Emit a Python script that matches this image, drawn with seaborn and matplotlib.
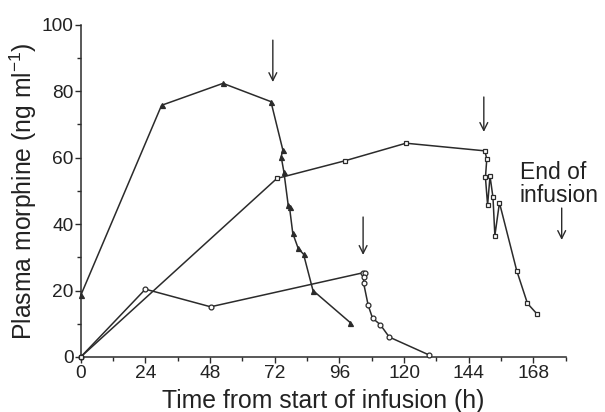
import matplotlib
matplotlib.use("Agg")
import matplotlib.pyplot as plt
import seaborn as sns
import pandas as pd
from matplotlib.ticker import MultipleLocator

# Plasma morphine concentrations (ng/ml) against time from start of infusion (h)
tri_time = [0, 30, 52.8, 70.6, 75.0, 74.4, 75.4, 77.0, 77.5, 78.7, 80.7, 82.7, 86.2, 100.1]
tri_conc = [18.5, 75.7, 82.3, 76.8, 62.3, 60.2, 55.7, 45.7, 45.0, 37.2, 32.7, 30.9, 20.0, 10.3]

circ_time = [0, 24, 48.2, 104.6, 105.6, 105.0, 105.0, 106.7, 108.3, 111.2, 114.5, 129.3]
circ_conc = [0, 20.4, 15.1, 25.3, 25.3, 24.0, 22.2, 15.5, 11.7, 9.7, 6.0, 0.6]

sq_time = [0, 72.8, 98.0, 120.7, 150.0, 150.7, 150.2, 151.0, 151.9, 153.0, 153.7, 155.4, 161.8, 165.8, 169.5]
sq_conc = [0, 53.7, 59.0, 64.3, 62.0, 59.5, 54.0, 45.7, 54.4, 48.0, 36.5, 46.4, 26.0, 16.1, 12.8]

# End of infusion for each subject (h) and the arrow spans above the curves
infusion_end = [71.3, 104.8, 149.6]
arrow_top = [95.3, 42.1, 78.2]
arrow_tip = [82.7, 30.7, 67.7]

x_ticks = list(range(0, 169, 24))
y_ticks = list(range(0, 101, 20))

sns.set_theme(style="ticks")
plt.rcParams["font.family"] = ["Liberation Sans", "DejaVu Sans"]
plt.rcParams["mathtext.fontset"] = "custom"
plt.rcParams["mathtext.rm"] = "Liberation Sans"
plt.rcParams["mathtext.it"] = "Liberation Sans:italic"

ink = "#2b2b2b"
text_ink = "#222222"

fig = plt.figure(figsize=(6.05, 4.12), dpi=100)
ax = fig.add_axes([0.1334, 0.1335, 0.8017, 0.807])

series = [
    (tri_time, tri_conc, "^", ink, 3.6),
    (circ_time, circ_conc, "o", "white", 3.5),
    (sq_time, sq_conc, "s", "white", 3.4),
]
for t, c, mk, face, ms in series:
    df = pd.DataFrame({"time": t, "conc": c})
    sns.lineplot(data=df, x="time", y="conc", ax=ax, sort=False, estimator=None,
                 color=ink, linewidth=1.1, marker=mk, markersize=ms,
                 markerfacecolor=face, markeredgecolor=ink, markeredgewidth=0.9,
                 clip_on=False, zorder=3)

for x, y0, y1 in zip(infusion_end, arrow_top, arrow_tip):
    ax.annotate("", xy=(x, y1), xytext=(x, y0),
                arrowprops=dict(arrowstyle="->", color=ink, lw=1.0,
                                mutation_scale=14, shrinkA=0, shrinkB=0))

ax.text(163, 59.0, "End of\ninfusion", ha="left", va="top", fontsize=16.5,
        color=text_ink, linespacing=1.0)
ax.annotate("", xy=(178.5, 35.2), xytext=(178.5, 44.8),
            arrowprops=dict(arrowstyle="->", color=ink, lw=1.0,
                            mutation_scale=14, shrinkA=0, shrinkB=0),
            annotation_clip=False)

ax.set_xlim(0, 180)
ax.set_ylim(0, 100)
ax.set_xticks(x_ticks)
ax.set_yticks(y_ticks)
ax.xaxis.set_minor_locator(MultipleLocator(12))
ax.yaxis.set_minor_locator(MultipleLocator(10))
ax.tick_params(axis="both", which="major", length=4, width=1.0, color=ink,
               labelsize=13.8, labelcolor=text_ink, pad=2)
ax.tick_params(axis="both", which="minor", length=3, width=1.0, color=ink)
ax.tick_params(axis="y", which="major", pad=1)

ax.set_xlabel("Time from start of infusion (h)", fontsize=17.8, color=text_ink, labelpad=5)
ax.set_ylabel("Plasma morphine (ng ml$^{-1}$)", fontsize=17.8, color=text_ink, labelpad=2)

for side in ("top", "right"):
    ax.spines[side].set_visible(False)
for side in ("left", "bottom"):
    ax.spines[side].set_linewidth(1.1)
    ax.spines[side].set_color(ink)

fig.savefig("out.png", dpi=100, facecolor="white")
